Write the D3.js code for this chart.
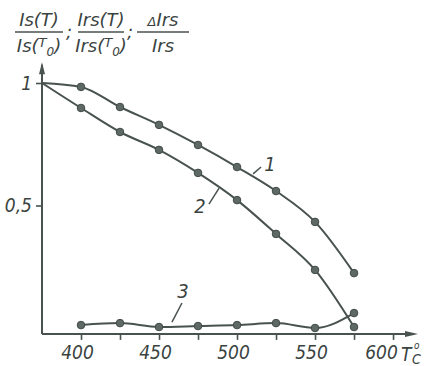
<!DOCTYPE html>
<html><head><meta charset="utf-8">
<script src="https://cdn.jsdelivr.net/npm/d3@7"></script>
<style>
html,body{margin:0;padding:0;background:#fff;}
svg{display:block;}
</style></head>
<body>
<script>
// Temperature points (°C) and the reference temperature T0
const temps = [400, 425, 450, 475, 500, 525, 550, 575];
const T0 = 375;
// Curve 1: Is(T)/Is(T0)
const saturationRatio = [0.984, 0.902, 0.829, 0.747, 0.657, 0.559, 0.433, 0.224];
// Curve 2: Irs(T)/Irs(T0)
const remanenceRatio = [0.898, 0.800, 0.727, 0.633, 0.522, 0.384, 0.237, 0.004];
// Curve 3: ΔIrs/Irs
const remanenceSpread = [0.012, 0.020, 0.004, 0.008, 0.012, 0.020, 0.000, 0.061];

const xTicks = [400, 425, 450, 475, 500, 525, 550, 575, 600];
const xTickLabels = ["400", "", "450", "", "500", "", "550", "", "600"];
const yTicks = [0.5, 1];
const yTickLabels = ["0,5", "1"];

// Curve number labels: leader line (from → to) and text anchor, in data units
const curveLabels = [
  {text: "1", from: [510.3, 0.629], to: [515.4, 0.657], at: [521.2, 0.641]},
  {text: "2", from: [488.5, 0.571], to: [482.0, 0.506], at: [476.3, 0.469]},
  {text: "3", from: [458.3, 0.024], to: [464.7, 0.102], at: [465.4, 0.122]}
];

const W = 437, H = 366;
const ink = "#48524e";
const textInk = "#3a4340";
const numFont = "'DejaVu Sans Condensed','Liberation Sans Narrow',sans-serif";
const titleFont = "'DejaVu Sans','Liberation Sans',sans-serif";

const svg = d3.select("body").append("svg")
  .attr("width", W).attr("height", H)
  .style("background", "#fff");

const x = d3.scaleLinear().domain([T0, 616]).range([42, 418]);
const y = d3.scaleLinear().domain([0, 1]).range([328, 83]);
const axisY = y(-0.024);

// Axes lines with arrow heads
const axes = svg.append("g").attr("stroke", ink).attr("fill", "none").attr("stroke-width", 2);
axes.append("line").attr("x1", x(T0)).attr("y1", axisY).attr("x2", x(T0)).attr("y2", y(1.075));
axes.append("line").attr("x1", x(T0)).attr("y1", axisY).attr("x2", x(612)).attr("y2", axisY);
svg.append("path")
  .attr("d", `M${x(T0)},${y(1.085)} L${x(T0) - 3},${y(1.085) + 12} L${x(T0) + 3},${y(1.085) + 12} Z`)
  .attr("fill", ink);
svg.append("path")
  .attr("d", `M${x(616)},${axisY} L${x(616) - 13},${axisY - 3} L${x(616) - 13},${axisY + 3} Z`)
  .attr("fill", ink);

// X axis ticks and labels (italic labels sit slightly left of their ticks)
const gx = svg.append("g").attr("transform", `translate(0,${axisY})`)
  .call(d3.axisBottom(x).tickValues(xTicks).tickSize(6).tickPadding(6)
    .tickFormat((d, i) => xTickLabels[i]));
gx.select(".domain").remove();
gx.selectAll(".tick line").attr("stroke", ink).attr("stroke-width", 1.6);
gx.selectAll(".tick text")
  .attr("fill", textInk)
  .attr("dx", d => d === 600 ? -12 : -4)
  .style("font-family", numFont)
  .style("font-style", "italic")
  .style("font-size", "19px");

// Y axis ticks and labels
const gy = svg.append("g").attr("transform", `translate(${x(T0)},0)`)
  .call(d3.axisLeft(y).tickValues(yTicks).tickSize(6).tickPadding(4)
    .tickFormat((d, i) => yTickLabels[i]));
gy.select(".domain").remove();
gy.selectAll(".tick line").attr("stroke", ink).attr("stroke-width", 1.6);
gy.selectAll(".tick text")
  .attr("fill", textInk)
  .style("font-family", numFont)
  .style("font-style", "italic")
  .style("font-size", "19px");

// Axis unit label "T °C"
const unit = svg.append("g").attr("fill", textInk)
  .style("font-family", numFont).style("font-style", "italic");
unit.append("text").attr("x", 401).attr("y", axisY + 27).style("font-size", "19px").text("T");
unit.append("text").attr("x", 414).attr("y", axisY + 15).style("font-size", "10px").text("o");
unit.append("text").attr("x", 412).attr("y", axisY + 30).style("font-size", "14px").text("C");

// Curves
const line = d3.line().x(d => x(d[0])).y(d => y(d[1])).curve(d3.curveMonotoneX);
const series = [
  [[T0, 1]].concat(temps.map((t, i) => [t, saturationRatio[i]])),
  [[T0, 1]].concat(temps.map((t, i) => [t, remanenceRatio[i]])),
  temps.map((t, i) => [t, remanenceSpread[i]])
];
series.forEach(pts => {
  svg.append("path").attr("d", line(pts))
    .attr("fill", "none").attr("stroke", ink).attr("stroke-width", 2);
});
series.forEach(pts => {
  svg.append("g").selectAll("circle")
    .data(pts.filter(p => p[0] !== T0))
    .join("circle")
    .attr("cx", d => x(d[0])).attr("cy", d => y(d[1])).attr("r", 3.8)
    .attr("fill", "#5e6864").attr("stroke", "#414b47").attr("stroke-width", 1);
});

// Curve number labels with leader lines
curveLabels.forEach(l => {
  svg.append("line")
    .attr("x1", x(l.from[0])).attr("y1", y(l.from[1]))
    .attr("x2", x(l.to[0])).attr("y2", y(l.to[1]))
    .attr("stroke", ink).attr("stroke-width", 1.5);
  svg.append("text")
    .attr("x", x(l.at[0])).attr("y", y(l.at[1]))
    .attr("text-anchor", "middle")
    .attr("fill", textInk)
    .style("font-family", numFont).style("font-style", "italic").style("font-size", "20px")
    .text(l.text);
});

// Y axis title: three stacked fractions
const title = svg.append("g").attr("fill", textInk)
  .style("font-family", titleFont).style("font-style", "italic").style("font-size", "18px");
const fractions = [
  {cx: 39, x1: 15, x2: 63, num: [["Is(T)", 18, 0]], den: [["Is(", 18, 0], ["T", 13, -5], ["0", 12, 9], [")", 18, -4]]},
  {cx: 101, x1: 78, x2: 124, num: [["Irs(T)", 18, 0]], den: [["Irs(", 18, 0], ["T", 13, -5], ["0", 12, 9], [")", 18, -4]]},
  {cx: 163, x1: 137, x2: 189, num: [["Δ", 13, 0], ["Irs", 18, 0]], den: [["Irs", 18, 0]]}
];
fractions.forEach(f => {
  const n = title.append("text").attr("x", f.cx).attr("y", 26).attr("text-anchor", "middle");
  f.num.forEach(([t, s, dy]) => n.append("tspan").style("font-size", s + "px").attr("dy", dy).text(t));
  const d = title.append("text").attr("x", f.cx).attr("y", 52).attr("text-anchor", "middle");
  f.den.forEach(([t, s, dy]) => d.append("tspan").style("font-size", s + "px").attr("dy", dy).text(t));
  svg.append("line").attr("x1", f.x1).attr("x2", f.x2).attr("y1", 32).attr("y2", 32)
    .attr("stroke", ink).attr("stroke-width", 1.6);
});
title.append("text").attr("x", 66).attr("y", 38).text(";");
title.append("text").attr("x", 127).attr("y", 38).text(";");
</script>
</body></html>
